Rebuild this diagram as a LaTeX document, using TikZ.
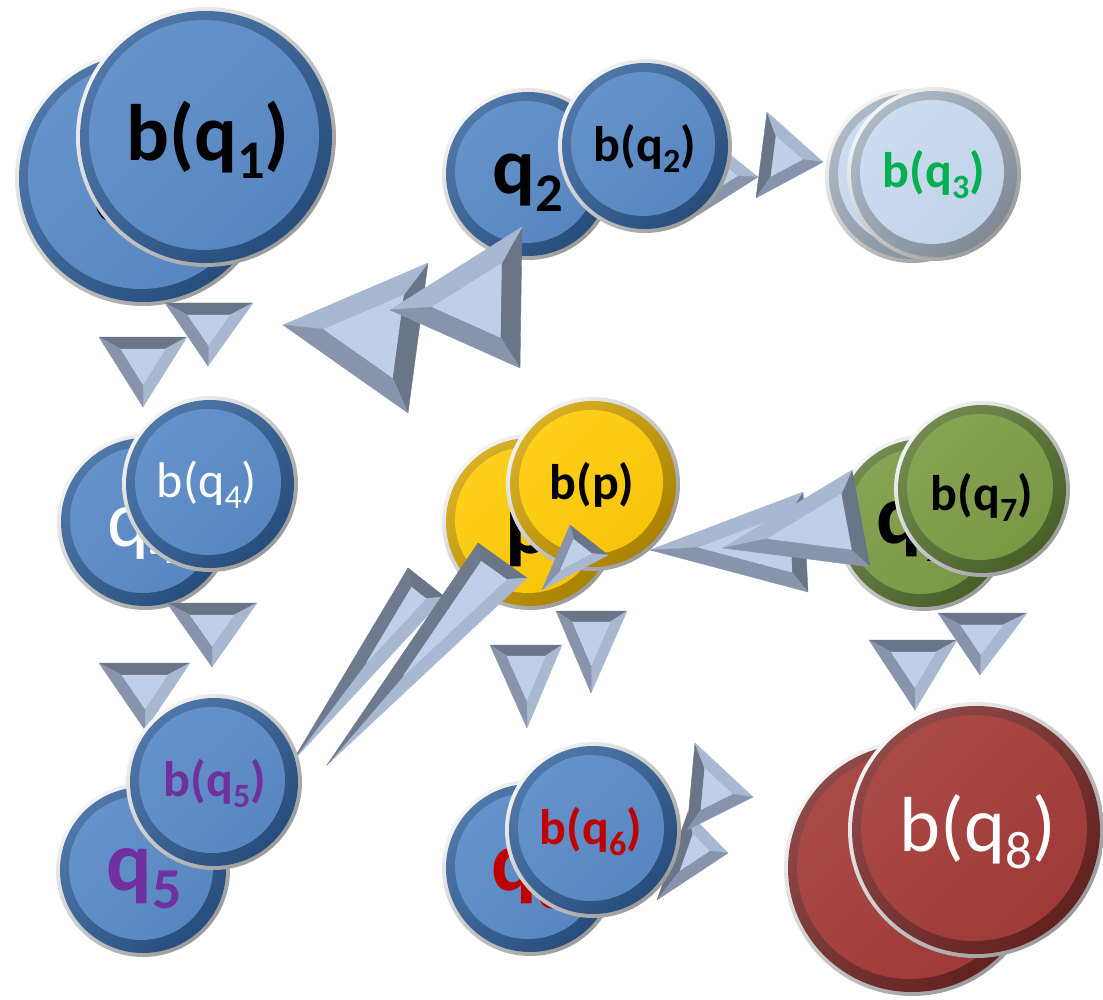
\documentclass[tikz,border=0pt]{standalone}
\usepackage{fontspec}
\setmainfont{Carlito}
\usepackage{graphicx}
\usetikzlibrary{calc}
\definecolor{rimA}{HTML}{F4F4F4}
\definecolor{rimB}{HTML}{9A9A9A}
\definecolor{bluein}{HTML}{5A8AC6}
\definecolor{bluering}{HTML}{30609A}
\definecolor{yelin}{HTML}{FFCB0A}
\definecolor{yelring}{HTML}{D2A200}
\definecolor{grnin}{HTML}{7E9C46}
\definecolor{grnring}{HTML}{5A7632}
\definecolor{redin}{HTML}{A33C39}
\definecolor{redring}{HTML}{7A2A27}
\definecolor{ltin}{HTML}{C8DAF0}
\definecolor{ltring}{HTML}{A0ADBD}
\definecolor{bevdark}{HTML}{6A7588}
\definecolor{bevmid}{HTML}{8794AB}
\definecolor{bevlight}{HTML}{A8B8D1}
\definecolor{bevtop}{HTML}{BFCFEA}
\definecolor{lblpurple}{HTML}{7030A0}
\definecolor{lblred}{HTML}{C00000}
\definecolor{lblgreen}{HTML}{00B050}
\newcommand\sbs[1]{\raisebox{-0.22em}{\scalebox{0.68}{#1}}}
\newcommand\fs[1]{\fontsize{#1}{#1}\selectfont}
\tikzset{
  lb/.style={inner sep=0pt, outer sep=0pt},
  face/.style={fill=#1, draw=#1, line width=0.4, line join=round},
}
% disc: name, (x,y), radius, inner colour, ring colour
\newcommand\disc[5]{%
  \node[circle, inner sep=0pt, outer sep=0pt, minimum size={2*#3}] (#1) at #2 {};
  \shade[top color=rimA, bottom color=rimB, shading angle=45] (#1.center) circle ({#3});
  \shade[top color=#5!85!white, bottom color=#5!80!black, shading angle=45] (#1.center) circle ({#3-4});
  \shade[top color=#4!93!white, bottom color=#4!97!black, shading angle=45] ($(#1.center)+(-2,2)$) circle ({#3-15});
}
% bevelled triangle: [bevel width]{tip}{base vertex next to light face}{other base vertex}
\newcommand\btri[4][12]{%
  \path let \p1=#2, \p2=#3, \p3=#4,
    \n1={veclen(\x2-\x3,\y2-\y3)},
    \n2={veclen(\x1-\x3,\y1-\y3)},
    \n3={veclen(\x1-\x2,\y1-\y2)},
    \n4={\n1+\n2+\n3},
    \n5={abs(((\x2-\x1)/10)*((\y3-\y1)/10)-((\x3-\x1)/10)*((\y2-\y1)/10))/\n4*100},
    \n6={max(0.12,1-#1/\n5)},
    \p4=({\n1/\n4*\x1+\n2/\n4*\x2+\n3/\n4*\x3},{\n1/\n4*\y1+\n2/\n4*\y2+\n3/\n4*\y3}),
    \p5=({\x4+\n6*(\x1-\x4)},{\y4+\n6*(\y1-\y4)}),
    \p6=({\x4+\n6*(\x2-\x4)},{\y4+\n6*(\y2-\y4)}),
    \p7=({\x4+\n6*(\x3-\x4)},{\y4+\n6*(\y3-\y4)})
  in coordinate (bvA) at (\p1) coordinate (bvB) at (\p2) coordinate (bvC) at (\p3)
     coordinate (bva) at (\p5) coordinate (bvb) at (\p6) coordinate (bvc) at (\p7);
  \path[face=bevdark] (bvB) -- (bvC) -- (bvc) -- (bvb) -- cycle;
  \path[face=bevlight] (bvA) -- (bvB) -- (bvb) -- (bva) -- cycle;
  \path[face=bevmid] (bvA) -- (bvC) -- (bvc) -- (bva) -- cycle;
  \path[face=bevtop] (bva) -- (bvb) -- (bvc) -- cycle;
}
\begin{document}
\begin{tikzpicture}[x=1pt,y=1pt]
\useasboundingbox (0,0) rectangle (1103,-1000);

% ---------- back discs ----------
\disc{q1b}{(143,-178)}{128}{bluein}{bluering}
\node[lb, anchor=base, font=\fs{100}\bfseries] (q1l) at (137,-222) {q\sbs{1}};
\disc{q2b}{(528,-174)}{86}{bluein}{bluering}
\node[lb, anchor=base, font=\fs{80}\bfseries] (q2l) at (528,-194) {q\sbs{2}};
\disc{q3b}{(912,-176)}{87}{ltin}{ltring}
\disc{q4b}{(145,-522)}{88}{bluein}{bluering}
\node[lb, anchor=base, font=\fs{80}, text=white] (q4l) at (142,-546) {q\sbs{4}};
\disc{pb}{(530,-522)}{88}{yelin}{yelring}
\node[lb, anchor=base, font=\fs{85}\bfseries] (pl) at (528,-553) {p};
\disc{q7b}{(923,-523)}{88}{grnin}{grnring}
\node[lb, anchor=base, font=\fs{85}\bfseries] (q7l) at (914,-543) {q\sbs{7}};
\disc{q5b}{(143,-870)}{87}{bluein}{bluering}
\node[lb, anchor=base, font=\fs{85}\bfseries, text=lblpurple] (q5l) at (144,-890) {q\sbs{5}};
\disc{q6b}{(530,-868)}{88}{bluein}{bluering}
\node[lb, anchor=base, font=\fs{85}\bfseries, text=lblred] (q6l) at (529,-890) {q\sbs{6}};
\disc{q8b}{(912,-868)}{128}{redin}{redring}

% ---------- arrowheads ----------
% q1 -> q4
\btri{(208,-366)}{(253,-303)}{(165,-303)}
\btri{(143,-407)}{(187,-337)}{(99,-337)}
% q4 -> q5
\btri{(212,-667)}{(257,-603)}{(167,-603)}
\btri{(145,-730)}{(190,-663)}{(99,-663)}
% p -> q6
\btri[11]{(591,-693)}{(627,-611)}{(556,-611)}
\btri[11]{(527,-728)}{(562,-645)}{(490,-645)}
% q7 -> q8
\btri{(980,-675)}{(1027,-613)}{(938,-613)}
\btri{(915,-710)}{(957,-640)}{(869,-640)}
% q2 -> q1
\btri[20]{(283,-325)}{(428,-263)}{(408,-413)}
\btri[20]{(390,-310)}{(522,-227)}{(520,-368)}
% q2 -> q3
\btri{(758,-177)}{(705,-135)}{(698,-215)}
\btri{(823,-162)}{(767,-112)}{(756,-198)}
% q7 -> p
\btri[15]{(650,-550)}{(803,-492)}{(808,-592)}
\btri[15]{(723,-548)}{(852,-470)}{(870,-567)}
% p -> q5
{\colorlet{bevmid}{bevdark!85!bevmid}
\btri[13]{(292,-762)}{(445,-597)}{(408,-568)}
\btri[13]{(327,-765)}{(527,-578)}{(478,-543)}}
% q6 -> q8
\btri{(728,-853)}{(688,-812)}{(657,-900)}
\btri{(753,-797)}{(695,-743)}{(687,-830)}

% ---------- front discs ----------
\disc{q1f}{(206,-137)}{130}{bluein}{bluering}
\node[lb, font=\fs{80}\bfseries] (q1fl) at (208,-140) {b(q\sbs{1})};
\disc{q2f}{(645,-146)}{87}{bluein}{bluering}
\node[lb, font=\fs{50}\bfseries] (q2fl) at (645,-148) {b(q\sbs{2})};
\disc{q3f}{(934,-174)}{87}{ltin}{ltring}
\node[lb, font=\fs{50}\bfseries, text=lblgreen] (q3fl) at (934,-175) {b(q\sbs{3})};
\disc{q4f}{(210,-484)}{88}{bluein}{bluering}
\node[lb, font=\fs{50}, text=white] (q4fl) at (207,-485) {b(q\sbs{4})};
\disc{pf}{(593,-484)}{87}{yelin}{yelring}
\node[lb, font=\fs{50}\bfseries] (pfl) at (592,-485) {b(p)};
\disc{q7f}{(982,-489)}{88}{grnin}{grnring}
\node[lb, font=\fs{50}\bfseries] (q7fl) at (982,-497) {b(q\sbs{7})};
\disc{q5f}{(214,-782)}{88}{bluein}{bluering}
\node[lb, font=\fs{50}\bfseries, text=lblpurple] (q5fl) at (215,-784) {b(q\sbs{5})};
\disc{q6f}{(593,-830)}{88}{bluein}{bluering}
\node[lb, font=\fs{50}\bfseries, text=lblred] (q6fl) at (591,-832) {b(q\sbs{6})};
\disc{q8f}{(976,-830)}{128}{redin}{redring}
\node[lb, font=\fs{78}, text=white] (q8fl) at (978,-832) {b(q\sbs{8})};

% small arrowhead over b(p)
\btri[9]{(542,-590)}{(608,-555)}{(570,-525)}
\end{tikzpicture}
\end{document}
